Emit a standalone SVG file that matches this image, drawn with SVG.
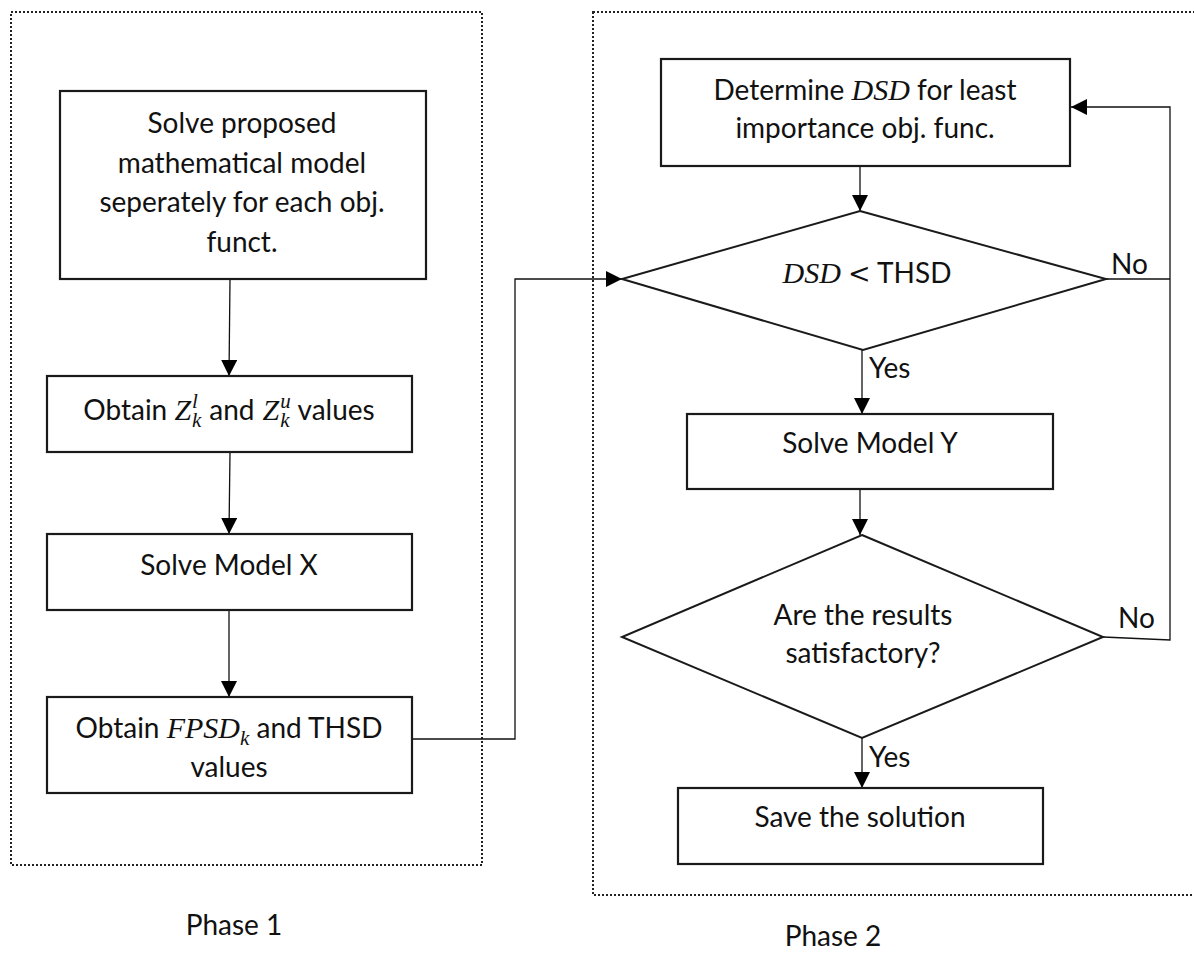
<svg xmlns="http://www.w3.org/2000/svg" width="1194" height="953" viewBox="0 0 1194 953">
<style>
.frame{fill:none;stroke:#222;stroke-width:2;stroke-dasharray:2 2}
.box{fill:#fff;stroke:#1a1a1a;stroke-width:2.2}
.dia{fill:#fff;stroke:#1a1a1a;stroke-width:2}
.c{fill:none;stroke:#111;stroke-width:1.3}
.t{font-family:Lato,"Open Sans",sans-serif;font-size:28px;fill:#111;text-anchor:middle}
.lb{font-family:Lato,"Open Sans",sans-serif;font-size:28px;fill:#111}
.m{font-family:"Liberation Serif","DejaVu Serif",serif;font-style:italic;font-size:30px}
.s{font-family:"Liberation Serif","DejaVu Serif",serif;font-style:italic;font-size:21px}
.op{font-family:"DejaVu Serif",serif;font-size:27px}
</style>
<defs>
<marker id="ah" viewBox="0 0 16 16" refX="16" refY="8" markerWidth="16" markerHeight="16" markerUnits="userSpaceOnUse" orient="auto">
<path d="M0,0 L16,8 L0,16 z" fill="#000"/>
</marker>
</defs>
<rect class="frame" x="11" y="12" width="471" height="853"/>
<rect class="frame" x="593" y="12" width="620" height="883"/>
<text class="lb" x="234" y="935" text-anchor="middle">Phase 1</text>
<text class="lb" x="833" y="946" text-anchor="middle">Phase 2</text>
<g id="connectors">
<path class="c" d="M230,279 L229,376" marker-end="url(#ah)"/>
<path class="c" d="M230,452 L229,534" marker-end="url(#ah)"/>
<path class="c" d="M229,610 L229,697" marker-end="url(#ah)"/>
<path class="c" d="M412,739 H515 V279 H622" marker-end="url(#ah)"/>
<path class="c" d="M860,166 V211" marker-end="url(#ah)"/>
<path class="c" d="M862,350 V414" marker-end="url(#ah)"/>
<path class="c" d="M860,489 V535" marker-end="url(#ah)"/>
<path class="c" d="M862,738 V788" marker-end="url(#ah)"/>
<path class="c" d="M1106,279 H1170"/>
<path class="c" d="M1103,637 L1170,640 V107 H1071" marker-end="url(#ah)"/>
<text class="lb" x="1111" y="274">No</text>
<text class="lb" x="1118" y="628">No</text>
<text class="lb" x="869" y="378">Yes</text>
<text class="lb" x="869" y="767">Yes</text>
</g>
<g id="solve-proposed">
<rect class="box" x="60" y="91" width="366" height="188"/>
<text class="t" x="242" y="133">Solve proposed</text>
<text class="t" x="242" y="173">mathematical model</text>
<text class="t" x="242" y="212">seperately for each obj.</text>
<text class="t" x="242" y="252">funct.</text>
</g>
<g id="obtain-z">
<rect class="box" x="47" y="376" width="365" height="76"/>
<text class="t" x="229" y="420">Obtain <tspan class="m">Z</tspan><tspan class="s" dx="1" dy="-12">l</tspan><tspan class="s" dx="-6" dy="19">k</tspan><tspan dy="-7" dx="8">and</tspan><tspan class="m" dx="8">Z</tspan><tspan class="s" dx="1" dy="-12">u</tspan><tspan class="s" dx="-10.5" dy="19">k</tspan><tspan dy="-7" dx="8">values</tspan></text>
</g>
<g id="solve-x">
<rect class="box" x="47" y="534" width="365" height="76"/>
<text class="t" x="229" y="575">Solve Model X</text>
</g>
<g id="obtain-fpsd">
<rect class="box" x="47" y="697" width="365" height="96"/>
<text class="t" x="229" y="738">Obtain <tspan class="m">FPSD</tspan><tspan class="s" dy="7">k</tspan><tspan dy="-7"> and THSD</tspan></text>
<text class="t" x="229" y="777">values</text>
</g>
<g id="determine-dsd">
<rect class="box" x="661" y="59" width="409" height="107"/>
<text class="t" x="865" y="100">Determine <tspan class="m">DSD</tspan> for least</text>
<text class="t" x="865" y="138">importance obj. func.</text>
</g>
<g id="dsd-thsd">
<polygon class="dia" points="860,211 1106,279 863,350 622,279"/>
<text class="t" x="867" y="283"><tspan class="m">DSD</tspan> <tspan class="op">&lt;</tspan> THSD</text>
</g>
<g id="solve-y">
<rect class="box" x="687" y="414" width="366" height="75"/>
<text class="t" x="870" y="453">Solve Model Y</text>
</g>
<g id="satisfactory">
<polygon class="dia" points="862,535 1103,637 862,738 622,637"/>
<text class="t" x="863" y="625">Are the results</text>
<text class="t" x="863" y="663">satisfactory?</text>
</g>
<g id="save">
<rect class="box" x="678" y="788" width="365" height="76"/>
<text class="t" x="860" y="827">Save the solution</text>
</g>
</svg>
